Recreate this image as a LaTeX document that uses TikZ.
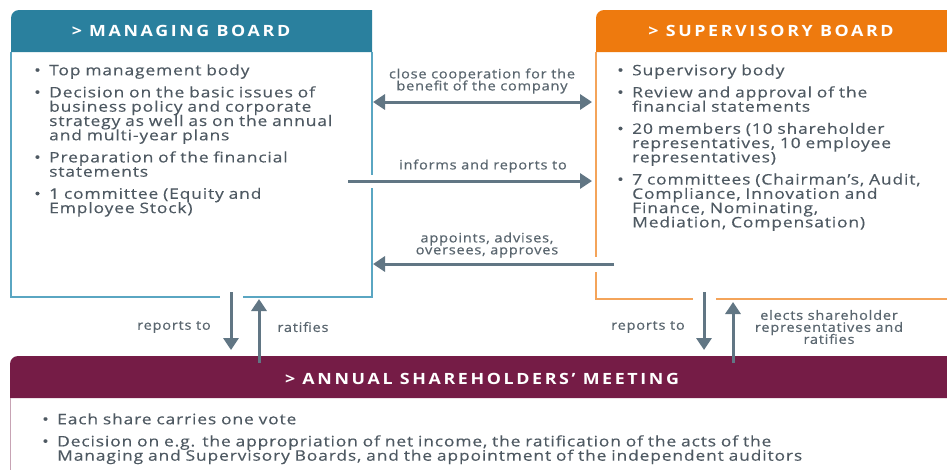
\documentclass[tikz,border=0pt]{standalone}
\usepackage{fontspec}
\setmainfont{Open Sans}[FakeStretch=1.2,LetterSpace=6,FakeBold=0.3]
\newfontfamily\headfont{Open Sans}[FakeStretch=1.15,LetterSpace=17]
\newfontfamily\labelfont{Open Sans}[FakeStretch=1.12,LetterSpace=6,FakeBold=0.5]
\usetikzlibrary{arrows.meta}
\definecolor{mbteal}{HTML}{2A809E}
\definecolor{mbline}{HTML}{5AA6C2}
\definecolor{sborange}{HTML}{EE7A0E}
\definecolor{sbline}{HTML}{F4A45A}
\definecolor{asmred}{HTML}{751C46}
\definecolor{asmline}{HTML}{C7A3B4}
\definecolor{arrowgray}{HTML}{617684}
\definecolor{txtgray}{HTML}{4E5962}
\definecolor{lblgray}{HTML}{5A666F}
\newcommand\tightlines{\lineskiplimit=-30pt\relax\lineskip=0pt\relax}
\newcommand\bitem[1]{\par\noindent\hangindent=15pt\hangafter=1\makebox[15pt][l]{\textbullet}#1\par}
\tikzset{
  bodytext/.style={anchor=north west, inner sep=0pt, text width=#1, align=left, text=txtgray,
    font=\fontsize{14.5}{14.3}\selectfont\tightlines},
  bodytext/.default=350pt,
  headtext/.style={inner sep=0pt, text=white, font=\headfont\bfseries\fontsize{15.5}{15.5}\selectfont},
  lbl/.style={inner sep=0pt, align=center, text=lblgray,
    font=\labelfont\fontsize{13}{12}\selectfont\tightlines},
  arr/.style={draw=arrowgray, line width=3pt, -{Triangle[width=15pt,length=12pt]}},
  darr/.style={draw=arrowgray, line width=3pt, {Triangle[width=15pt,length=12pt]}-{Triangle[width=15pt,length=12pt]}},
  halo/.style={draw=white, line width=#1},
}
\begin{document}
\begin{tikzpicture}[x=1pt,y=-1pt]
\clip (0,0) rectangle (947,469);
\fill[white] (0,0) rectangle (947,469);
% Managing board
\fill[mbteal] (11,52) -- (11,18) .. controls (11,13.6) and (14.6,10) .. (19,10) -- (372,10) -- (372,52) -- cycle;
\draw[mbline, line width=1.3pt] (11,52) -- (11,297) -- (372,297) -- (372,52);
\node[headtext] (mbhead) at (181,31) {> MANAGING BOARD};
% Supervisory board
\fill[sborange] (596,52) -- (596,18) .. controls (596,13.6) and (599.6,10) .. (604,10) -- (960,10) -- (960,52) -- cycle;
\draw[sbline, line width=1.3pt] (960,299) -- (596,299) -- (596,52);
\node[headtext] (sbhead) at (771,31) {> SUPERVISORY BOARD};
% Annual shareholders' meeting
\fill[asmred] (10,398) -- (10,364) .. controls (10,359.6) and (13.6,356) .. (18,356) -- (960,356) -- (960,398) -- cycle;
\draw[asmline, line width=1pt] (10,398) -- (10,480);
\node[headtext] (asmhead) at (482,379) {> ANNUAL SHAREHOLDERS’ MEETING};
% body texts
\node[bodytext] (mbtext) at (34,53) {%
\setlength\parskip{7.8pt}\tightlines
\bitem{Top management body}
\bitem{Decision on the basic issues of\newline business policy and corporate\newline strategy as well as on the annual\newline and multi-year plans}
\bitem{Preparation of the financial\newline statements}
\bitem{1 committee (Equity and\newline Employee Stock)}};
\node[bodytext] (sbtext) at (617,53) {%
\setlength\parskip{7.8pt}\tightlines
\bitem{Supervisory body}
\bitem{Review and approval of the\newline financial statements}
\bitem{20 members (10 shareholder\newline representatives, 10 employee\newline representatives)}
\bitem{7 committees (Chairman’s, Audit,\newline Compliance, Innovation and\newline Finance, Nominating,\newline Mediation, Compensation)}};
\node[bodytext=900pt] (asmtext) at (42,402) {%
\setlength\parskip{7.8pt}\tightlines
\bitem{Each share carries one vote}
\bitem{Decision on e.g. the appropriation of net income, the ratification of the acts of the\newline Managing and Supervisory Boards, and the appointment of the independent auditors}};
% coordinates
\coordinate (coopL) at (373,102);
\coordinate (coopR) at (592,102);
\coordinate (infS) at (348,181);
\coordinate (infE) at (592,181);
\coordinate (appS) at (614,264);
\coordinate (appE) at (373,264);
\coordinate (mdS) at (231,292);
\coordinate (mdE) at (231,350);
\coordinate (muS) at (259,363);
\coordinate (muE) at (259,299);
\coordinate (sdS) at (704,292);
\coordinate (sdE) at (704,350);
\coordinate (suS) at (733,363);
\coordinate (suE) at (733,302);
% halos
\draw[halo=13pt] (infS) -- ++(40,0);
\draw[halo=15pt] (appS) -- ++(-30,0);
\draw[halo=23pt] (mdS) -- ++(0,14);
\draw[halo=23pt] (sdS) -- ++(0,14);
% arrows
\draw[darr] (coopL) -- (coopR);
\draw[arr] (infS) -- (infE);
\draw[arr] (appS) -- (appE);
\draw[arr] (mdS) -- (mdE);
\draw[arr] (muS) -- (muE);
\draw[arr] (sdS) -- (sdE);
\draw[arr] (suS) -- (suE);
% labels
\node[lbl] (lcoop) at (482,81) {close cooperation for the\\benefit of the company};
\node[lbl] (linf) at (483,166) {informs and reports to};
\node[lbl] (lapp) at (487,245) {appoints, advises,\\oversees, approves};
\node[lbl] (lmrep) at (174,327) {reports to};
\node[lbl] (lmrat) at (303,327) {ratifies};
\node[lbl] (lsrep) at (648,327) {reports to};
\node[lbl] (lsel) at (829,327) {elects shareholder\\representatives and\\ratifies};
\end{tikzpicture}
\end{document}
